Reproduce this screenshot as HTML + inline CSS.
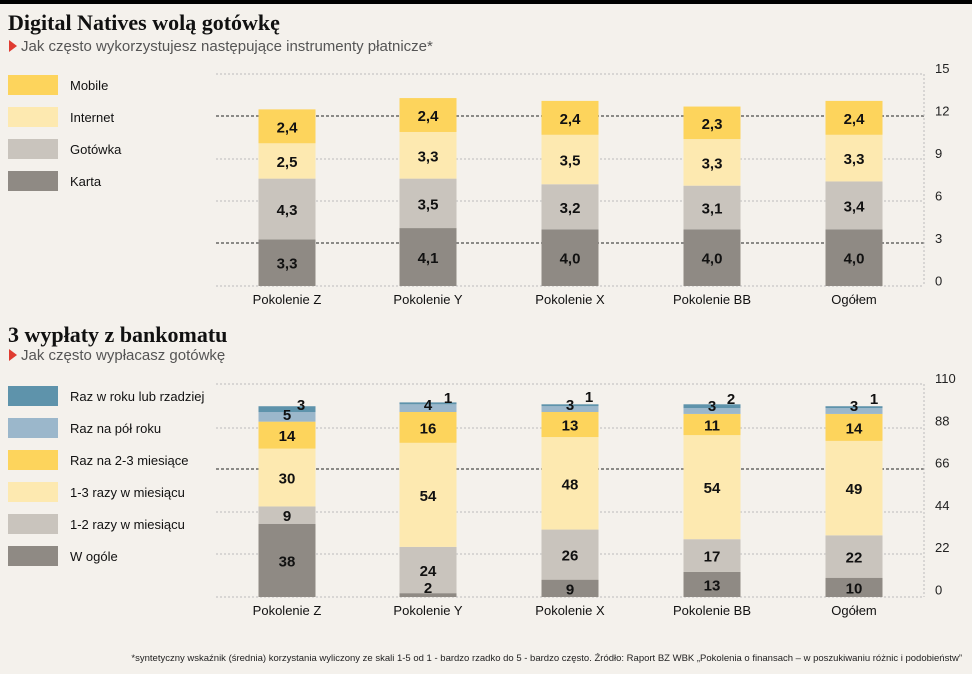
<!DOCTYPE html>
<html><head><meta charset="utf-8"><style>
html,body{margin:0;padding:0;background:#f4f1ec;}
svg{display:block}
.t{font-family:"Liberation Serif",serif;font-weight:bold;font-size:22px;fill:#111}
.s{font-family:"Liberation Sans",sans-serif;font-size:15px;fill:#555}
.l{font-family:"Liberation Sans",sans-serif;font-size:13px;fill:#111}
.v{font-family:"Liberation Sans",sans-serif;font-size:15px;font-weight:bold;fill:#111;text-anchor:middle}
.k{font-family:"Liberation Sans",sans-serif;font-size:13px;fill:#222}
.c{font-family:"Liberation Sans",sans-serif;font-size:13px;fill:#111;text-anchor:middle}
.f{font-family:"Liberation Sans",sans-serif;font-size:9.5px;fill:#222;text-anchor:end}
</style></head><body>
<div id="wrap"></div>
<script>
(function(){
var h='',lab='';
function R(x,y,w,hh,c){h+='<rect x="'+x+'" y="'+y+'" width="'+w+'" height="'+hh+'" fill="'+c+'"/>';}
function T(cl,x,y,t){h+='<text class="'+cl+'" x="'+x+'" y="'+y+'">'+t+'</text>';}
function V(x,y,t){lab+='<text class="v" x="'+x+'" y="'+y+'">'+t+'</text>';}
function L(x1,y1,x2,y2,c,d){h+='<line x1="'+x1+'" y1="'+y1+'" x2="'+x2+'" y2="'+y2+'" stroke="'+c+'" stroke-width="1" stroke-dasharray="'+d+'"/>';}
h+='<rect x="0" y="0" width="972" height="4" fill="#000"/>';
T('t',8,30,'Digital Natives wolą gotówkę');
h+='<polygon points="9,40 9,52 17,46" fill="#e03c31"/>';
T('s',21,51,'Jak często wykorzystujesz następujące instrumenty płatnicze*');
T('t',8,342,'3 wypłaty z bankomatu');
h+='<polygon points="9,349 9,361 17,355" fill="#e03c31"/>';
T('s',21,360,'Jak często wypłacasz gotówkę');
T('f',962,661,'*syntetyczny wskaźnik (średnia) korzystania wyliczony ze skali 1-5 od 1 - bardzo rzadko do 5 - bardzo często. Źródło: Raport BZ WBK „Pokolenia o finansach – w poszukiwaniu różnic i podobieństw”');
var DG='#8f8a84',LG='#c9c4bd',LY='#fde9b0',Y='#fdd45c',LB='#9bb7cb',DB='#5e93ab';
var cx=[287,428,570,712,854],cats=['Pokolenie Z','Pokolenie Y','Pokolenie X','Pokolenie BB','Ogółem'];
var y0=286,sc=14.13;
[[74,'#bbb','2,2'],[159,'#bbb','2,2'],[201,'#bbb','2,2'],[286,'#bbb','2,2'],[116,'#222','3,2'],[243,'#222','3,2']].forEach(function(a){L(216,a[0],924,a[0],a[1],a[2]);});
L(924,74,924,286,'#bbb','2,2');
['15','12','9','6','3','0'].forEach(function(t,i){T('k',935,73+i*42.5,t);});
var tops=[[3.3,4.3,2.5,2.4],[4.1,3.5,3.3,2.4],[4.0,3.2,3.5,2.4],[4.0,3.1,3.3,2.3],[4.0,3.4,3.3,2.4]];
var tc=[DG,LG,LY,Y];
tops.forEach(function(b,i){var y=y0;b.forEach(function(v,j){var hh=v*sc;R(cx[i]-28.5,y-hh,57,hh,tc[j]);V(cx[i],y-hh/2+6,v.toFixed(1).replace('.',','));y-=hh;});T('c',cx[i],304,cats[i]);});
[['Mobile',Y],['Internet',LY],['Gotówka',LG],['Karta',DG]].forEach(function(a,i){R(8,75+i*32,50,20,a[1]);T('l',70,90+i*32,a[0]);});
var b0=597,bs=1.927;
[[384,'#bbb','2,2'],[428,'#bbb','2,2'],[512,'#bbb','2,2'],[554,'#bbb','2,2'],[597,'#bbb','2,2'],[469,'#222','3,2']].forEach(function(a){L(216,a[0],924,a[0],a[1],a[2]);});
L(924,384,924,597,'#bbb','2,2');
['110','88','66','44','22','0'].forEach(function(t,i){T('k',935,383+i*42.3,t);});
var bot=[[38,9,30,14,5,3],[2,24,54,16,4,1],[9,26,48,13,3,1],[13,17,54,11,3,2],[10,22,49,14,3,1]];
var bc=[DG,LG,LY,Y,LB,DB];
bot.forEach(function(b,i){var y=b0;b.forEach(function(v,j){var hh=v*bs;R(cx[i]-28.5,y-hh,57,hh,bc[j]);
 if(j<4){var ty=y-hh/2+6; if(i==1&&j==0)ty=y-4; V(cx[i],ty,v);}
 y-=hh;});T('c',cx[i],615,cats[i]);});
V(301,410,'3');V(287,420,'5');
V(428,410,'4');V(448,403,'1');
V(570,410,'3');V(589,402,'1');
V(712,411,'3');V(731,404,'2');
V(854,411,'3');V(874,404,'1');
[['Raz w roku lub rzadziej',DB],['Raz na pół roku',LB],['Raz na 2-3 miesiące',Y],['1-3 razy w miesiącu',LY],['1-2 razy w miesiącu',LG],['W ogóle',DG]].forEach(function(a,i){R(8,386+i*32,50,20,a[1]);T('l',70,401+i*32,a[0]);});
document.getElementById('wrap').innerHTML='<svg width="972" height="674" xmlns="http://www.w3.org/2000/svg">'+h+lab+'</svg>';
})();
</script>
</body></html>
